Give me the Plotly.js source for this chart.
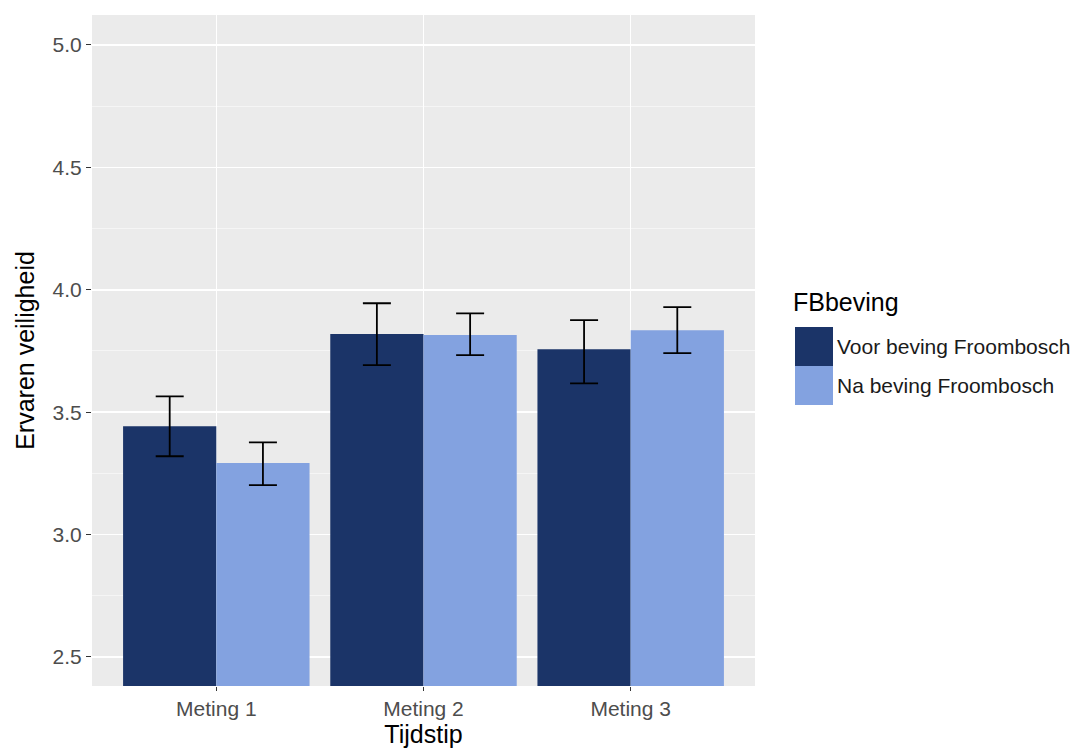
<!DOCTYPE html>
<html>
<head>
<meta charset="utf-8">
<script src="https://cdn.plot.ly/plotly-3.0.1.min.js"></script>
<style>
  html, body { margin: 0; padding: 0; background: #ffffff; }
  #chart { width: 1076px; height: 749px; }
</style>
</head>
<body>
<div id="chart"></div>
<script>
// ---- data ----
const categories = ["Meting 1", "Meting 2", "Meting 3"];
const groupNames = ["Voor beving Froombosch", "Na beving Froombosch"];
const voorMean  = [3.443, 3.819, 3.757];
const voorUpper = [3.565, 3.945, 3.876];
const voorLower = [3.320, 3.692, 3.618];
const naMean    = [3.292, 3.815, 3.835];
const naUpper   = [3.377, 3.904, 3.929];
const naLower   = [3.202, 3.733, 3.741];
const yTickVals = [2.5, 3.0, 3.5, 4.0, 4.5, 5.0];
const yTickText = ["2.5", "3.0", "3.5", "4.0", "4.5", "5.0"];
const yMinorVals = [2.75, 3.25, 3.75, 4.25, 4.75];

const darkBlue = "#1B3468";
const lightBlue = "#83A2E0";
const FONT = "Liberation Sans, Arial, sans-serif";

function errPlus(m, u) { return m.map((v, i) => u[i] - v); }
function errMinus(m, l) { return m.map((v, i) => v - l[i]); }

const errStyle = { type: "data", symmetric: false, color: "#000000", thickness: 1.8, width: 14 };

const traces = [
  {
    type: "bar", name: groupNames[0], x: categories, y: voorMean,
    marker: { color: darkBlue, line: { width: 0 } },
    error_y: Object.assign({ array: errPlus(voorMean, voorUpper), arrayminus: errMinus(voorMean, voorLower) }, errStyle),
    showlegend: false, hoverinfo: "x+y"
  },
  {
    type: "bar", name: groupNames[1], x: categories, y: naMean,
    marker: { color: lightBlue, line: { width: 0 } },
    error_y: Object.assign({ array: errPlus(naMean, naUpper), arrayminus: errMinus(naMean, naLower) }, errStyle),
    showlegend: false, hoverinfo: "x+y"
  }
];

// plot-area geometry (pixels) used to place the hand-drawn legend
const W = 1076, H = 749;
const M = { l: 92, r: 321, t: 15, b: 63 };
const pw = W - M.l - M.r, ph = H - M.t - M.b;
const px = x => (x - M.l) / pw;
const py = y => (H - M.b - y) / ph;

const legendKeys = [darkBlue, lightBlue];
const shapes = legendKeys.map((c, i) => ({
  type: "rect", xref: "paper", yref: "paper",
  x0: px(795), x1: px(833), y0: py(327 + 39 * i), y1: py(366 + 39 * i),
  fillcolor: c, line: { width: 0 }
}));

const annotations = [
  { text: "FBbeving", xref: "paper", yref: "paper", x: px(791), y: py(302),
    xanchor: "left", yanchor: "middle", showarrow: false,
    font: { family: FONT, size: 25, color: "#000000" } }
].concat(groupNames.map((g, i) => ({
  text: g, xref: "paper", yref: "paper", x: px(835), y: py(346 + 39 * i),
  xanchor: "left", yanchor: "middle", showarrow: false,
  font: { family: FONT, size: 21, color: "#1a1a1a" }
})));

const layout = {
  width: W, height: H,
  margin: M,
  paper_bgcolor: "#ffffff",
  plot_bgcolor: "#EBEBEB",
  barmode: "group",
  bargap: 0.1,
  bargroupgap: 0,
  showlegend: false,
  font: { family: FONT },
  xaxis: {
    type: "category",
    range: [-0.6, 2.6],
    showgrid: true, gridcolor: "#ffffff", gridwidth: 1.5,
    zeroline: false, showline: false,
    ticks: "outside", ticklen: 4, tickwidth: 1, tickcolor: "#333333",
    tickfont: { size: 21, color: "#4D4D4D" },
    title: { text: "Tijdstip", font: { size: 25, color: "#000000" }, standoff: 2 }
  },
  yaxis: {
    range: [2.3815, 5.1225],
    tickvals: yTickVals, ticktext: yTickText,
    showgrid: true, gridcolor: "#ffffff", gridwidth: 1.5,
    minor: { tickvals: yMinorVals, showgrid: true, gridcolor: "#F7F7F7", gridwidth: 0.8, ticks: "" },
    zeroline: false, showline: false,
    ticks: "outside", ticklen: 5, tickwidth: 1, tickcolor: "#333333",
    tickfont: { size: 21, color: "#4D4D4D" },
    title: { text: "Ervaren veiligheid", font: { size: 25, color: "#000000" }, standoff: 10 }
  },
  shapes: shapes,
  annotations: annotations
};

Plotly.newPlot("chart", traces, layout, { displayModeBar: false, staticPlot: true });
</script>
</body>
</html>
